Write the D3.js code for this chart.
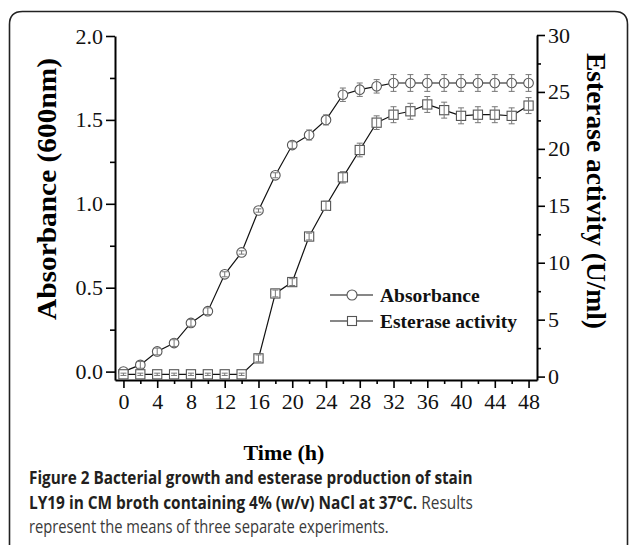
<!DOCTYPE html>
<html>
<head>
<meta charset="utf-8">
<script src="https://cdn.jsdelivr.net/npm/d3@7/dist/d3.min.js"></script>
<style>
  html, body { margin: 0; padding: 0; background: #fff; }
  svg { display: block; }
</style>
</head>
<body>
<div id="chart"></div>
<script>
// sampling times (h)
const hours = [0, 2, 4, 6, 8, 10, 12, 14, 16, 18, 20, 22, 24, 26, 28, 30, 32, 34, 36, 38, 40, 42, 44, 46, 48];
// absorbance at 600nm (left axis)
const absorbance = [0.00, 0.04, 0.12, 0.17, 0.29, 0.36, 0.58, 0.71, 0.96, 1.17, 1.35, 1.41, 1.50, 1.65, 1.68, 1.70, 1.72, 1.72, 1.72, 1.72, 1.72, 1.72, 1.72, 1.72, 1.72];
const absorbanceErr = [0.005, 0.02, 0.02, 0.02, 0.02, 0.02, 0.015, 0.01, 0.01, 0.015, 0.02, 0.03, 0.03, 0.04, 0.04, 0.04, 0.05, 0.05, 0.05, 0.05, 0.05, 0.05, 0.05, 0.05, 0.05];
// esterase activity U/ml (right axis)
const esterase = [0.2, 0.2, 0.2, 0.2, 0.2, 0.2, 0.2, 0.2, 1.6, 7.3, 8.3, 12.3, 15.0, 17.5, 19.9, 22.3, 23.0, 23.3, 23.9, 23.4, 22.9, 23.0, 23.0, 22.9, 23.8];
const esteraseErr = [0.1, 0.1, 0.1, 0.1, 0.1, 0.1, 0.1, 0.1, 0.3, 0.3, 0.3, 0.3, 0.4, 0.5, 0.6, 0.6, 0.7, 0.7, 0.7, 0.7, 0.7, 0.7, 0.7, 0.7, 0.7];

const xMajor = d3.range(0, 49, 4);
const xMinor = d3.range(2, 49, 4);
const yLeftMajor = [0, 0.5, 1.0, 1.5, 2.0];
const yLeftMinor = [0.25, 0.75, 1.25, 1.75];
const yRightMajor = [0, 5, 10, 15, 20, 25, 30];
const yRightMinor = [2.5, 7.5, 12.5, 17.5, 22.5, 27.5];

const W = 629, H = 545;
const serif = "'Liberation Serif', 'Times New Roman', serif";

const svg = d3.select("#chart").append("svg")
  .attr("width", W).attr("height", H);
svg.append("rect").attr("width", W).attr("height", H).attr("fill", "#fff");

// rounded frame, open at the bottom
const r = 13, fl = 9.5, ft = 11.5, fr = 627.5;
svg.append("path")
  .attr("d", `M${fl},${H + 5} L${fl},${ft + r} Q${fl},${ft} ${fl + r},${ft} L${fr - r},${ft} Q${fr},${ft} ${fr},${ft + r} L${fr},${H + 5}`)
  .attr("fill", "none").attr("stroke", "#222").attr("stroke-width", 1.6);

const x = d3.scaleLinear().domain([-1, 49]).range([115, 537]);
const yL = d3.scaleLinear().domain([-0.05, 2.0]).range([380, 36]);
const yR = d3.scaleLinear().domain([-0.3, 30]).range([380, 35]);

function styleAxis(g) {
  g.selectAll("path.domain").attr("stroke", "#000").attr("stroke-width", 2);
  g.selectAll(".tick line").attr("stroke", "#000").attr("stroke-width", 1.6);
  g.selectAll("text").attr("font-family", serif).attr("font-size", 22).attr("fill", "#111");
}

// x axis
const gx = svg.append("g").attr("transform", "translate(0,380)");
gx.call(d3.axisBottom(x).tickValues(xMajor).tickSize(8).tickPadding(5).tickSizeOuter(0));
gx.append("g").call(d3.axisBottom(x).tickValues(xMinor).tickSize(4).tickFormat("").tickSizeOuter(0))
  .select("path.domain").remove();
styleAxis(gx);

// left axis
const gl = svg.append("g").attr("transform", "translate(115,0)");
gl.call(d3.axisLeft(yL).tickValues(yLeftMajor).tickFormat(d3.format(".1f")).tickSize(9).tickPadding(3).tickSizeOuter(0));
gl.append("g").call(d3.axisLeft(yL).tickValues(yLeftMinor).tickSize(5).tickFormat("").tickSizeOuter(0))
  .select("path.domain").remove();
styleAxis(gl);

// right axis
const gr = svg.append("g").attr("transform", "translate(537,0)");
gr.call(d3.axisRight(yR).tickValues(yRightMajor).tickSize(8).tickPadding(3).tickSizeOuter(0));
gr.append("g").call(d3.axisRight(yR).tickValues(yRightMinor).tickSize(4).tickFormat("").tickSizeOuter(0))
  .select("path.domain").remove();
styleAxis(gr);

// axis titles
svg.append("text")
  .attr("transform", "translate(56,189) rotate(-90)")
  .attr("text-anchor", "middle")
  .attr("font-family", serif).attr("font-weight", "bold").attr("font-size", 27)
  .attr("textLength", 262).attr("lengthAdjust", "spacingAndGlyphs")
  .text("Absorbance (600nm)");
svg.append("text")
  .attr("transform", "translate(587,191) rotate(90)")
  .attr("text-anchor", "middle")
  .attr("font-family", serif).attr("font-weight", "bold").attr("font-size", 27)
  .attr("textLength", 276).attr("lengthAdjust", "spacingAndGlyphs")
  .text("Esterase activity (U/ml)");
svg.append("text")
  .attr("x", 284).attr("y", 460)
  .attr("text-anchor", "middle")
  .attr("font-family", serif).attr("font-weight", "bold").attr("font-size", 22)
  .text("Time (h)");

const markStroke = "#555", errColor = "#777";

function drawSeries(vals, errs, y, shape) {
  const pts = hours.map((h, i) => ({ h, v: vals[i], e: errs[i] }));
  const g = svg.append("g");
  g.append("path")
    .datum(pts)
    .attr("fill", "none").attr("stroke", "#111").attr("stroke-width", 1.2)
    .attr("d", d3.line().x(d => x(d.h)).y(d => y(d.v)));
  if (shape === "circle") {
    g.selectAll("circle").data(pts).join("circle")
      .attr("cx", d => x(d.h)).attr("cy", d => y(d.v)).attr("r", 4.8)
      .attr("fill", "#fff").attr("stroke", markStroke).attr("stroke-width", 1.1);
  } else {
    g.selectAll("rect").data(pts).join("rect")
      .attr("x", d => x(d.h) - 4.6).attr("y", d => y(d.v) - 4.6)
      .attr("width", 9.2).attr("height", 9.2)
      .attr("fill", "#fff").attr("stroke", markStroke).attr("stroke-width", 1.1);
  }
  const eb = g.selectAll("g.err").data(pts).join("g").attr("class", "err")
    .attr("stroke", errColor).attr("stroke-width", 1);
  eb.append("line")
    .attr("x1", d => x(d.h)).attr("x2", d => x(d.h))
    .attr("y1", d => y(d.v - d.e)).attr("y2", d => y(d.v + d.e));
  eb.append("line")
    .attr("x1", d => x(d.h) - 3).attr("x2", d => x(d.h) + 3)
    .attr("y1", d => y(d.v + d.e)).attr("y2", d => y(d.v + d.e));
  eb.append("line")
    .attr("x1", d => x(d.h) - 3).attr("x2", d => x(d.h) + 3)
    .attr("y1", d => y(d.v - d.e)).attr("y2", d => y(d.v - d.e));
}

drawSeries(absorbance, absorbanceErr, yL, "circle");
drawSeries(esterase, esteraseErr, yR, "square");

// legend
const legend = [
  { label: "Absorbance", shape: "circle", y: 295 },
  { label: "Esterase activity", shape: "square", y: 321 }
];
const lg = svg.append("g");
legend.forEach(d => {
  lg.append("line").attr("x1", 330).attr("x2", 373).attr("y1", d.y).attr("y2", d.y)
    .attr("stroke", "#111").attr("stroke-width", 1.2);
  if (d.shape === "circle") {
    lg.append("circle").attr("cx", 352).attr("cy", d.y).attr("r", 5)
      .attr("fill", "#fff").attr("stroke", markStroke).attr("stroke-width", 1.1);
  } else {
    lg.append("rect").attr("x", 347.5).attr("y", d.y - 4.5).attr("width", 9).attr("height", 9)
      .attr("fill", "#fff").attr("stroke", markStroke).attr("stroke-width", 1.1);
  }
  lg.append("text").attr("x", 380).attr("y", d.y + 6.5)
    .attr("font-family", serif).attr("font-weight", "bold").attr("font-size", 19.5)
    .attr("fill", "#111").text(d.label);
});

// caption: each line is one text made of bold / regular runs,
// squeezed horizontally (condensed face) to the reference width
const capFont = "'Open Sans', 'Noto Sans', sans-serif";
const captionLines = [
  { y: 484, w: 444, runs: [["Figure 2 Bacterial growth and esterase production of stain", true]] },
  { y: 509, w: 444, runs: [["LY19 in CM broth containing 4% (w/v) NaCl at 37°C.", true], [" Results", false]] },
  { y: 533, w: 360, runs: [["represent the means of three separate experiments.", false]] }
];
captionLines.forEach(c => {
  const t = svg.append("text")
    .attr("x", 0).attr("y", 0)
    .attr("font-family", capFont).attr("font-size", 18);
  c.runs.forEach(([s, bold]) => {
    t.append("tspan")
      .attr("font-weight", bold ? "bold" : "normal")
      .attr("fill", bold ? "#231f20" : "#3a3a3a")
      .text(s);
  });
  const len = t.node().getComputedTextLength();
  t.attr("transform", `translate(29,${c.y}) scale(${c.w / len},1)`);
});
</script>
</body>
</html>
